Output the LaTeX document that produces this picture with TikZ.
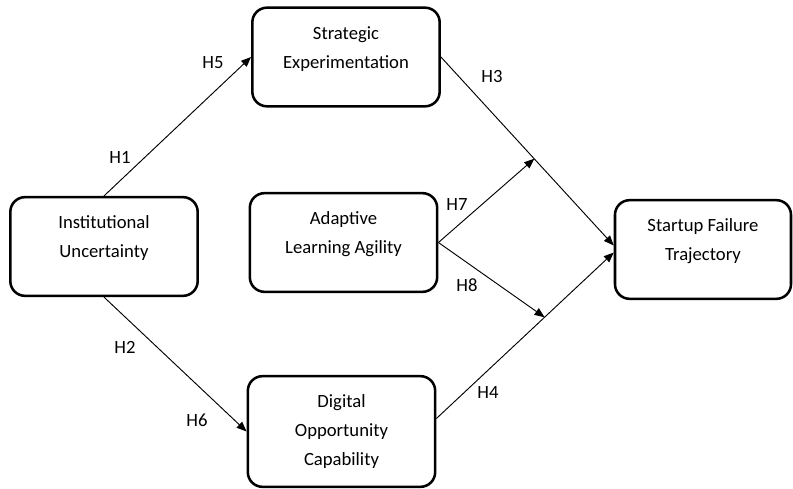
\documentclass[tikz,border=0pt]{standalone}
\usepackage{fontspec}
\setmainfont{Carlito}
\usetikzlibrary{arrows.meta}
\usetikzlibrary{positioning}
\usetikzlibrary{calc}

\tikzset{
  construct/.style={draw, line width=1.9pt, rounded corners=11pt, align=center,
    minimum width=140.5pt, minimum height=74pt, inner sep=2pt},
  path/.style={line width=0.7pt, -{Triangle[length=7.5pt,width=6pt]}},
  hyp/.style={inner sep=0pt}
}
% pushes a two-line text a little above the middle of its box
\newcommand{\upline}{\\[-7pt]\mbox{}}

\begin{document}
\begin{tikzpicture}[x=0.75pt,y=-0.75pt,font=\fontsize{14}{21.5}\selectfont]
   \useasboundingbox (0,0) rectangle (793,489);
   % constructs
   \node[construct] (iu) at (104,246.5) {Institutional\\Uncertainty\upline};
   \node[construct] (se) at (346,57) {Strategic\\Experimentation\upline};
   \node[construct] (ala) at (343.5,242.5) {Adaptive\\Learning Agility\upline};
   \node[construct, minimum height=83pt] (doc) at (341.5,431.5) {Digital\\Opportunity\\Capability};
   \node[construct, minimum width=132pt] (sft) at (703,249.5) {Startup Failure\\Trajectory\upline};
   %
   \coordinate (sftin1) at ($(sft.west)+(0,-4)$);
   \coordinate (sftin2) at ($(sft.west)+(0,3)$);
   \coordinate (docout) at ($(doc.east)+(0,-13)$);
   \coordinate (m1) at ($(se.east)!0.54!(sftin1)$);
   \coordinate (m2) at ($(docout)!0.61!(sftin2)$);
   % paths
   \draw[path] (iu.north) -- (se.west);
   \draw[path] (iu.south) -- (doc.west);
   \draw[path] (se.east) -- (sftin1);
   \draw[path] (docout) -- (sftin2);
   \draw[path] (ala.east) -- (m1);
   \draw[path] (ala.east) -- (m2);
   % hypotheses
   \node[hyp] (h1) at (120,157) {H1};
   \node[hyp] (h2) at (125,347) {H2};
   \node[hyp] (h3) at (492,77) {H3};
   \node[hyp] (h4) at (488,393) {H4};
   \node[hyp] (h5) at (213,63) {H5};
   \node[hyp] (h6) at (197,420) {H6};
   \node[hyp] (h7) at (457,205) {H7};
   \node[hyp] (h8) at (467,285) {H8};
   %
\end{tikzpicture}
\end{document}
